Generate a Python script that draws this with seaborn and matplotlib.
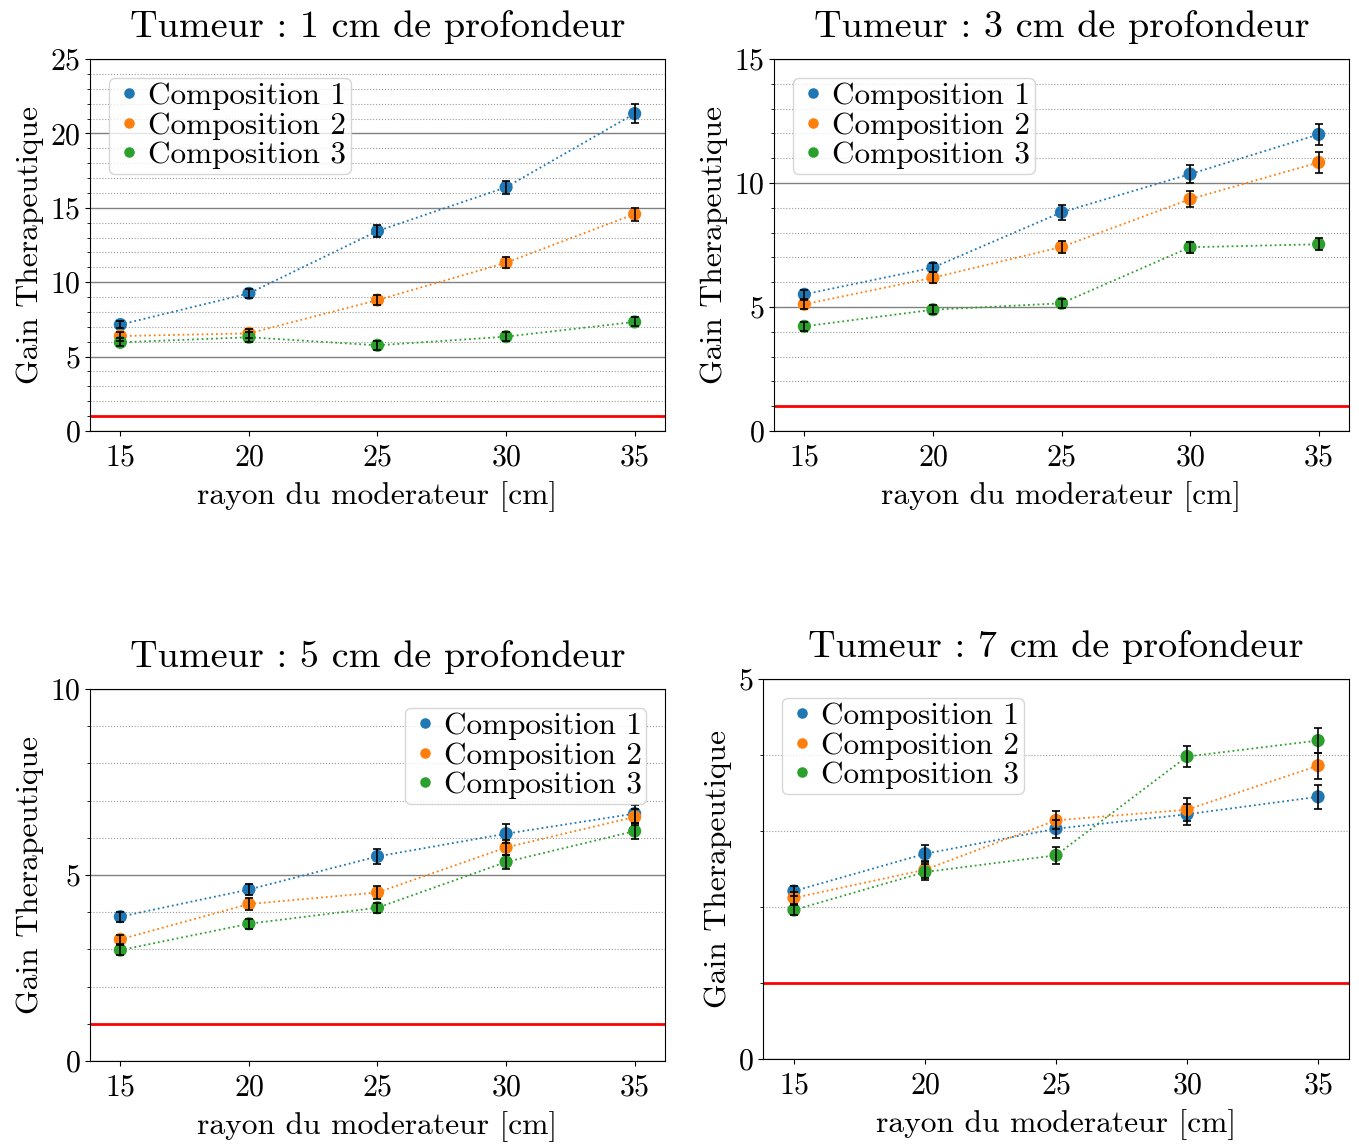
import numpy as np
import pandas as pd
import matplotlib
matplotlib.use("Agg")
import matplotlib.pyplot as plt
import seaborn as sns
from matplotlib.ticker import MultipleLocator

sns.set_style("ticks")
plt.rcParams['font.family'] = ['cmr10', 'DejaVu Serif']
plt.rcParams['mathtext.fontset'] = 'cm'
plt.rcParams['axes.formatter.use_mathtext'] = True
plt.rcParams['axes.unicode_minus'] = False
for k in ['text.color', 'axes.labelcolor', 'xtick.color', 'ytick.color', 'axes.edgecolor']:
    plt.rcParams[k] = 'black'

rayon = [15, 20, 25, 30, 35]
compositions = ["Composition 1", "Composition 2", "Composition 3"]
titles = ["Tumeur : 1 cm de profondeur", "Tumeur : 3 cm de profondeur",
          "Tumeur : 5 cm de profondeur", "Tumeur : 7 cm de profondeur"]

# Tumeur 1 cm
g1_c1 = [7.15, 9.25, 13.44, 16.38, 21.33]
g1_c2 = [6.38, 6.56, 8.80, 11.31, 14.58]
g1_c3 = [5.96, 6.30, 5.76, 6.34, 7.33]
e1_c1 = [0.26, 0.28, 0.40, 0.45, 0.62]
e1_c2 = [0.30, 0.31, 0.34, 0.37, 0.44]
e1_c3 = [0.28, 0.32, 0.30, 0.29, 0.30]
# Tumeur 3 cm
g3_c1 = [5.51, 6.59, 8.82, 10.36, 11.96]
g3_c2 = [5.11, 6.18, 7.42, 9.35, 10.83]
g3_c3 = [4.22, 4.89, 5.15, 7.41, 7.53]
e3_c1 = [0.18, 0.18, 0.30, 0.37, 0.42]
e3_c2 = [0.19, 0.22, 0.25, 0.33, 0.41]
e3_c3 = [0.19, 0.19, 0.18, 0.23, 0.25]
# Tumeur 5 cm
g5_c1 = [3.88, 4.61, 5.50, 6.11, 6.65]
g5_c2 = [3.27, 4.22, 4.53, 5.74, 6.56]
g5_c3 = [2.98, 3.69, 4.12, 5.35, 6.18]
e5_c1 = [0.13, 0.16, 0.21, 0.25, 0.24]
e5_c2 = [0.13, 0.16, 0.17, 0.20, 0.22]
e5_c3 = [0.13, 0.14, 0.14, 0.18, 0.21]
# Tumeur 7 cm
g7_c1 = [2.21, 2.70, 3.03, 3.22, 3.45]
g7_c2 = [2.12, 2.49, 3.14, 3.28, 3.86]
g7_c3 = [1.96, 2.46, 2.68, 3.98, 4.19]
e7_c1 = [0.07, 0.11, 0.12, 0.14, 0.16]
e7_c2 = [0.08, 0.11, 0.12, 0.15, 0.17]
e7_c3 = [0.07, 0.10, 0.11, 0.14, 0.16]

seuil = 1.0
ylims = [25, 15, 10, 5]
legend_locs = ["upper left", "upper left", "upper right", "upper left"]

panels = [
    ([g1_c1, g1_c2, g1_c3], [e1_c1, e1_c2, e1_c3]),
    ([g3_c1, g3_c2, g3_c3], [e3_c1, e3_c2, e3_c3]),
    ([g5_c1, g5_c2, g5_c3], [e5_c1, e5_c2, e5_c3]),
    ([g7_c1, g7_c2, g7_c3], [e7_c1, e7_c2, e7_c3]),
]
colors = ["#1f77b4", "#ff7f0e", "#2ca02c"]

W, H = 1359, 1146
fig = plt.figure(figsize=(W / 100, H / 100), dpi=100)
rects = [
    (90, 59, 665, 431),
    (774, 59, 1349, 431),
    (90, 689, 665, 1061),
    (763, 679, 1349, 1059),
]

for i, ((gains, errs), (l, t, r, b)) in enumerate(zip(panels, rects)):
    ax = fig.add_axes([l / W, 1 - b / H, (r - l) / W, (b - t) / H])
    rows = []
    for comp, g, e in zip(compositions, gains, errs):
        for x, y, err in zip(rayon, g, e):
            rows.append({"rayon": x, "gain": y, "err": err, "composition": comp})
    df = pd.DataFrame(rows)

    ax.axhline(seuil, color="red", lw=2, zorder=1.5)
    for comp, col in zip(compositions, colors):
        sub = df[df.composition == comp]
        sns.lineplot(data=sub, x="rayon", y="gain", ax=ax, color=col,
                     linestyle=":", lw=1.3, legend=False, zorder=2)
    sns.scatterplot(data=df, x="rayon", y="gain", hue="composition",
                    palette=colors, s=90, edgecolor="none", ax=ax, zorder=3)
    ax.errorbar(df["rayon"], df["gain"], yerr=df["err"], fmt="none",
                ecolor="black", elinewidth=1.2, capsize=2.6, capthick=1.2, zorder=4)

    ax.set_ylim(0, ylims[i])
    ax.set_xlim(13.82, 36.18)
    ax.set_xticks(rayon)
    ax.yaxis.set_major_locator(MultipleLocator(5))
    ax.yaxis.set_minor_locator(MultipleLocator(1))
    ax.grid(True, which="major", axis="y", color="gray", lw=1, ls="-")
    ax.grid(True, which="minor", axis="y", color="gray", lw=0.8, ls=":", alpha=0.8)
    ax.set_axisbelow(True)
    ax.tick_params(labelsize=21.5)
    ax.tick_params(axis="x", pad=6)
    ax.set_xlabel("rayon du moderateur [cm]", fontsize=22.7, labelpad=7)
    ax.set_ylabel("Gain Therapeutique", fontsize=22.7)
    ax.set_title(titles[i], fontsize=27.5, pad=16)
    for s in ax.spines.values():
        s.set_visible(True)
        s.set_color("black")
    leg = ax.legend(loc=legend_locs[i], fontsize=22.5, title=None,
                    labelspacing=0.05, handletextpad=0.1, borderpad=0.15,
                    handlelength=1.0, borderaxespad=0.6, markerscale=0.8)

fig.savefig("out.png", dpi=100)
